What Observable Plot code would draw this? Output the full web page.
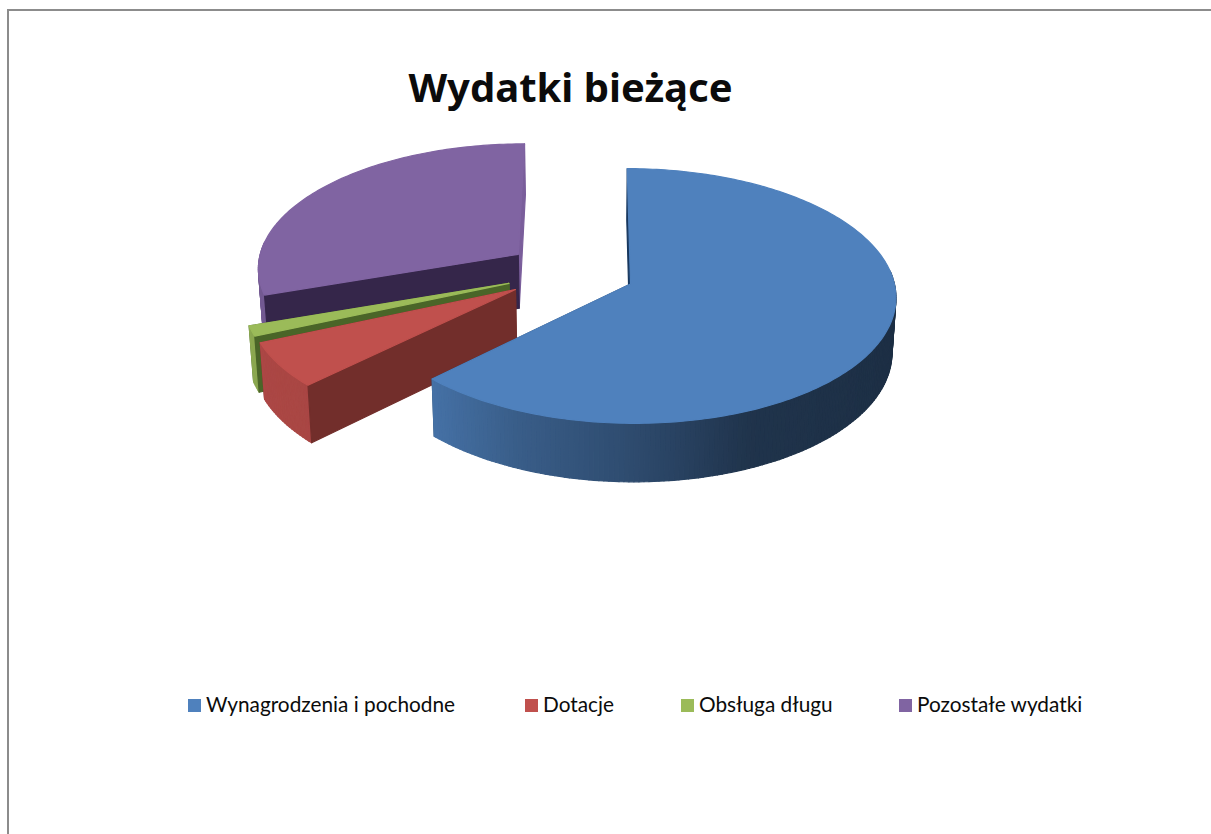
<!DOCTYPE html>
<html lang="pl">
<head>
<meta charset="utf-8">
<title>Wydatki bieżące</title>
<script src="https://cdn.jsdelivr.net/npm/d3@7"></script>
<script src="https://cdn.jsdelivr.net/npm/@observablehq/plot@0.6"></script>
<style>
html,body{margin:0;padding:0;background:#fff;overflow:hidden}
#page{position:relative;width:1211px;height:834px;overflow:hidden;font-family:Lato,sans-serif;color:#0b0b0b}
#frame{position:absolute;left:7px;top:9px;width:1300px;height:900px;border-left:2px solid #8c8c8c;border-top:2px solid #8c8c8c}
#title{position:absolute;left:0;top:62px;width:1141px;text-align:center;font-family:"Noto Sans",sans-serif;font-weight:700;font-size:40px;line-height:50px}
#chart{position:absolute;left:0;top:0}
#legend span.k{position:absolute;top:699px;width:13px;height:13px}
#legend span.t{position:absolute;top:692px;font-size:20.8px;line-height:24px;white-space:nowrap}
</style>
</head>
<body>
<div id="page">
  <div id="frame"></div>
  <div id="chart"></div>
  <div id="title">Wydatki bieżące</div>
  <div id="legend"></div>
</div>
<script>
// --- data ---
const categories = ["Wynagrodzenia i pochodne", "Dotacje", "Obsługa długu", "Pozostałe wydatki"];
const values = [62.6, 5.8, 1.3, 30.3];

// --- styles ---
const topColors = ["#4f81bd", "#c0504d", "#9bbb59", "#8064a2"];
const startFaceColors = ["#17375e", "#722e2b", "#4a6528", "#35264a"];
const endFaceColors = ["#2c4a70", "#722e2b", "#4a6528", "#7a5e9b"];
const legendSwatchX = [188, 525, 681, 899];
const legendTextX = [206, 543, 699, 917];

// --- 3D view settings ---
const radius = 261.5, explode = 65, depth = 55, shrink = 0.013;
const viewX = 592, viewY = 271.5, pieX = -22.3, tilt = 0.474, eye = 2800;

function project(slice, theta, r, z) {
  const b = (slice.startAngle + slice.endAngle) / 2;
  const X = pieX + explode * Math.sin(b) + r * Math.sin(theta);
  const Y = -explode * Math.cos(b) - r * Math.cos(theta);
  const f = eye / (eye - Y) * (1 - shrink * z);
  return [viewX + X * f, viewY + (tilt * Y + depth * z) * f];
}

const wallShade = d3.scaleLinear().domain([-1, -0.72, -0.4, 0, 0.4, 1]).range([0.9, 0.88, 0.72, 0.58, 0.4, 0.36]).clamp(true);
function shaded(color, theta) {
  const c = d3.rgb(color), m = wallShade(Math.sin(theta));
  return d3.rgb(c.r * m, c.g * m, c.b * m).formatHex();
}

const slices = d3.pie().sort(null)(values);
const rows = [];
let pieceId = 0;
function piece(points, color) {
  const id = pieceId++;
  for (const [x, y] of points) rows.push({x, y, id, color});
}
const step = Math.PI / 180;
const face = (s, angle, color) =>
  piece([project(s, angle, 0, 0), project(s, angle, radius, 0), project(s, angle, radius, 1), project(s, angle, 0, 1)], color);

// far slices first, nearest last
for (const i of [3, 2, 1, 0]) {
  const s = slices[i];
  const rim = d3.range(s.startAngle, s.endAngle, step).concat(s.endAngle);
  face(s, s.endAngle, endFaceColors[i]);              // rear face (mostly hidden)
  for (let j = 0; j + 1 < rim.length; j++) {          // outer wall, viewer-facing part only
    const a = rim[j], c = rim[j + 1], mid = (a + c) / 2;
    if (Math.cos(mid) > 0.1) continue;
    piece([project(s, a, radius, 0), project(s, c, radius, 0), project(s, c, radius, 1), project(s, a, radius, 1)],
      shaded(topColors[i], mid));
  }
  face(s, s.startAngle, startFaceColors[i]);          // front face
  piece([project(s, 0, 0, 0), ...rim.map(a => project(s, a, radius, 0))], topColors[i]);  // top
}

const svg = Plot.plot({
  width: 1211,
  height: 834,
  margin: 0,
  x: {domain: [0, 1211], range: [0, 1211], axis: null},
  y: {domain: [0, 834], range: [0, 834], axis: null},
  color: {type: "identity"},
  style: {background: "transparent"},
  marks: [
    Plot.line(rows, {x: "x", y: "y", z: "id", fill: "color", stroke: "color", strokeWidth: 1.2, strokeLinejoin: "round", curve: "linear-closed"})
  ]
});
document.getElementById("chart").appendChild(svg);

// legend
const legend = document.getElementById("legend");
categories.forEach((name, i) => {
  const k = document.createElement("span");
  k.className = "k"; k.style.left = legendSwatchX[i] + "px"; k.style.background = topColors[i];
  const t = document.createElement("span");
  t.className = "t"; t.style.left = legendTextX[i] + "px"; t.textContent = name;
  legend.append(k, t);
});
</script>
</body>
</html>
